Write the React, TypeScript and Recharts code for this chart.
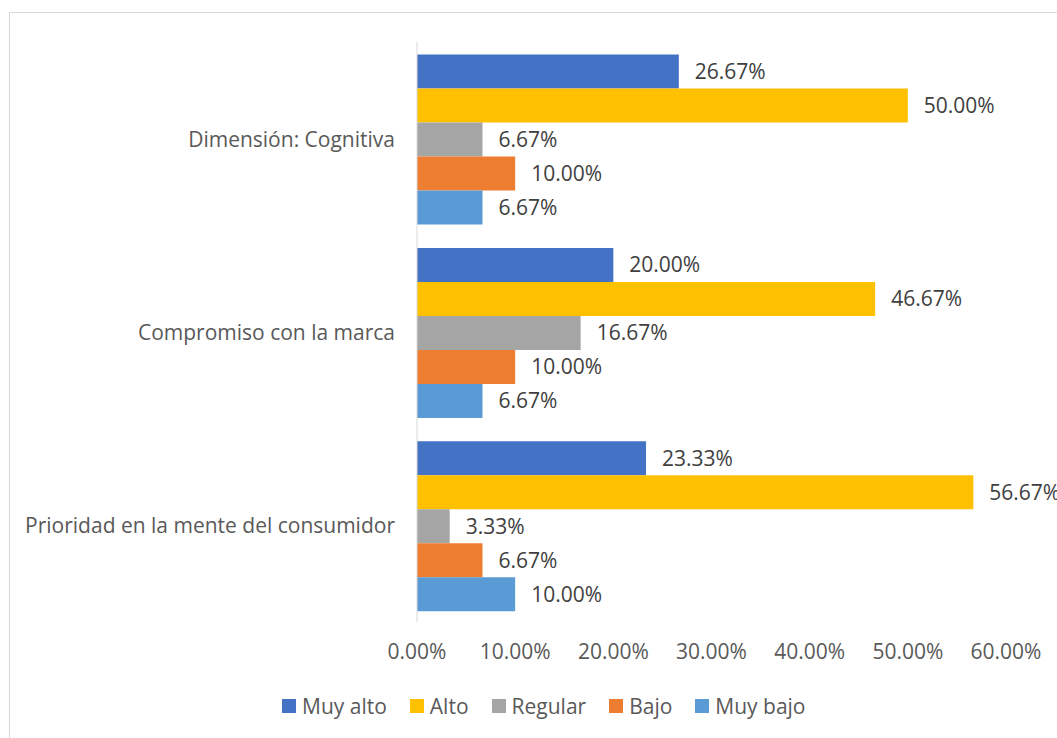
import React from 'react';
import { BarChart, Bar, XAxis, YAxis, LabelList, Legend } from 'recharts';

const categories = ['Dimensión: Cognitiva', 'Compromiso con la marca', 'Prioridad en la mente del consumidor'];
const muyAlto = [0.2667, 0.2, 0.2333];
const alto = [0.5, 0.4667, 0.5667];
const regular = [0.0667, 0.1667, 0.0333];
const bajo = [0.1, 0.1, 0.0667];
const muyBajo = [0.0667, 0.0667, 0.1];
const xTicks = [0, 0.1, 0.2, 0.3, 0.4, 0.5, 0.6];

const series = [
  { key: 'muyAlto', name: 'Muy alto', color: '#4472C4' },
  { key: 'alto', name: 'Alto', color: '#FFC000' },
  { key: 'regular', name: 'Regular', color: '#A5A5A5' },
  { key: 'bajo', name: 'Bajo', color: '#ED7D31' },
  { key: 'muyBajo', name: 'Muy bajo', color: '#5B9BD5' },
];

const data = categories.map((name, i) => ({
  name,
  muyAlto: muyAlto[i],
  alto: alto[i],
  regular: regular[i],
  bajo: bajo[i],
  muyBajo: muyBajo[i],
}));

const FONT = '"Open Sans", sans-serif';
const SIZE = 21;
const TEXT = '#595959';
const pct = (v: number) => (v * 100).toFixed(2) + '%';

const YTick = (props: any) => {
  const { x, y, payload } = props;
  return (
    <text x={x - 14} y={y} textAnchor="end" dominantBaseline="central" fill={TEXT} fontSize={SIZE} fontFamily={FONT}>
      {payload.value}
    </text>
  );
};

const XTick = (props: any) => {
  const { x, y, payload } = props;
  return (
    <text x={x} y={y + 21} textAnchor="middle" dominantBaseline="central" fill={TEXT} fontSize={SIZE} fontFamily={FONT}>
      {pct(payload.value)}
    </text>
  );
};

const LegendContent = () => (
  <div style={{ display: 'flex', paddingLeft: 272, fontFamily: FONT, fontSize: SIZE, color: TEXT, lineHeight: '28px' }}>
    {series.map(s => (
      <div key={s.key} style={{ display: 'flex', alignItems: 'center', marginRight: 23 }}>
        <span style={{ width: 14, height: 14, background: s.color, marginRight: 6, display: 'inline-block' }} />
        <span>{s.name}</span>
      </div>
    ))}
  </div>
);

export default function App() {
  return (
    <div
      style={{
        position: 'fixed',
        left: 9,
        top: 12,
        width: 1100,
        height: 800,
        border: '1px solid #d9d9d9',
        background: '#fff',
      }}
    >
      <BarChart
        width={1048}
        height={726}
        data={data}
        layout="vertical"
        margin={{ top: 29, right: 52, left: 0, bottom: 29 }}
        barCategoryGap="6.5%"
        barGap={0}
      >
        <XAxis
          type="number"
          domain={[0, 0.6]}
          ticks={xTicks}
          axisLine={false}
          tickLine={false}
          tick={<XTick />}
          height={60}
        />
        <YAxis
          type="category"
          dataKey="name"
          width={407}
          axisLine={{ stroke: '#d9d9d9', strokeWidth: 1 }}
          tickLine={false}
          tick={<YTick />}
        />
        <Legend verticalAlign="bottom" align="left" content={<LegendContent />} wrapperStyle={{ bottom: 19 }} />
        {series.map(s => (
          <Bar key={s.key} dataKey={s.key} name={s.name} fill={s.color} isAnimationActive={false}>
            <LabelList
              dataKey={s.key}
              position="right"
              offset={16}
              formatter={(v: any) => pct(Number(v))}
              style={{ fill: '#404040', fontSize: SIZE, fontFamily: FONT }}
            />
          </Bar>
        ))}
      </BarChart>
    </div>
  );
}
